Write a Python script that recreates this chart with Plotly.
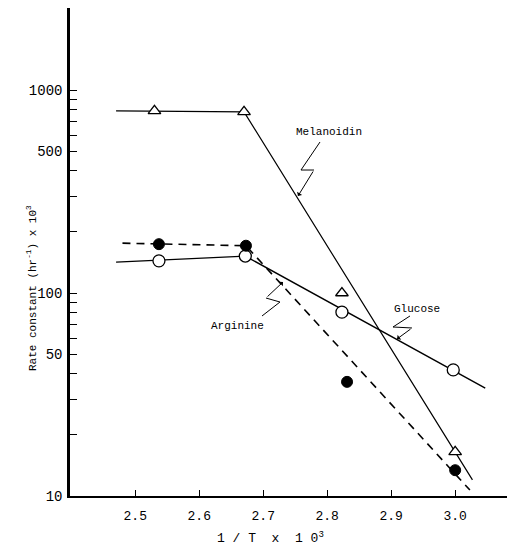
import plotly.graph_objects as go

# ---- data ----
mel_x = [2.530, 2.670, 2.823, 3.000]
mel_y = [790, 780, 100, 16.5]
glu_x = [2.537, 2.672, 2.823, 2.997]
glu_y = [144, 152, 80.5, 41.8]
arg_x = [2.537, 2.673, 2.831, 3.000]
arg_y = [174, 171, 36.5, 13.4]

mel_fit_x = [2.470, 2.670, 3.027]
mel_fit_y = [790, 780, 12.0]
glu_fit_x = [2.470, 2.672, 3.047]
glu_fit_y = [142, 152, 34]
arg_fit_x = [2.480, 2.673, 3.023]
arg_fit_y = [176, 171, 10.7]

x_ticks = [2.5, 2.6, 2.7, 2.8, 2.9, 3.0]
x_tick_labels = ["2.5", "2.6", "2.7", "2.8", "2.9", "3.0"]
y_ticks = [10, 20, 30, 40, 50, 60, 70, 80, 90, 100, 200, 300, 400, 500,
           600, 700, 800, 900, 1000]
y_labelled = {10: "10", 50: "50", 100: "100", 500: "500", 1000: "1000"}

FONT = "Liberation Mono"

# page has an 8px body margin; geometry below is in page pixels
OFF = 8
L, R, T, B = 70, 507, 8, 496          # plot area on the page
W, H = 522 - OFF, 549 - OFF           # figure size


def paper(px, py):
    return (px - L) / (R - L), (B - py) / (B - T)


def path(points):
    pts = [paper(*p) for p in points]
    return "M " + " L ".join(f"{x:.4f},{y:.4f}" for x, y in pts)


fig = go.Figure()

fig.add_trace(go.Scatter(x=mel_fit_x, y=mel_fit_y, mode="lines",
                         line=dict(color="black", width=1.2), hoverinfo="skip"))
fig.add_trace(go.Scatter(x=glu_fit_x, y=glu_fit_y, mode="lines",
                         line=dict(color="black", width=1.4), hoverinfo="skip"))
fig.add_trace(go.Scatter(x=arg_fit_x, y=arg_fit_y, mode="lines",
                         line=dict(color="black", width=1.6, dash="8px,6px"),
                         hoverinfo="skip"))

fig.add_trace(go.Scatter(x=mel_x, y=mel_y, mode="markers", name="Melanoidin",
                         marker=dict(symbol="triangle-up", size=11, color="white",
                                     line=dict(color="black", width=1.3))))
fig.add_trace(go.Scatter(x=glu_x, y=glu_y, mode="markers", name="Glucose",
                         marker=dict(symbol="circle", size=12, color="white",
                                     line=dict(color="black", width=1.3))))
fig.add_trace(go.Scatter(x=arg_x, y=arg_y, mode="markers", name="Arginine",
                         marker=dict(symbol="circle", size=11, color="black",
                                     line=dict(color="black", width=1))))

# callouts (labels with zig-zag pointers)
labels = [
    ("Melanoidin", 329, 132),
    ("Glucose", 417, 309),
    ("Arginine", 237, 326),
]
for txt, px, py in labels:
    x, y = paper(px, py)
    fig.add_annotation(x=x, y=y, xref="paper", yref="paper", text=txt,
                       showarrow=False, xanchor="center", yanchor="middle",
                       font=dict(family=FONT, size=11, color="black"))

zigzags = [
    [(320, 142), (301, 170), (314, 170), (298, 196)],
    [(262, 316), (280, 302), (266, 298), (283, 282)],
    [(410, 316), (393, 327), (412, 328), (397, 339)],
]
shapes = []
for zz in zigzags:
    shapes.append(dict(type="path", xref="paper", yref="paper", path=path(zz[:-1]),
                       line=dict(color="black", width=1)))
    (tx, ty), (hx, hy) = zz[-2], zz[-1]
    x, y = paper(hx, hy)
    fig.add_annotation(x=x, y=y, xref="paper", yref="paper", text="",
                       showarrow=True, ax=tx - hx, ay=ty - hy,
                       arrowhead=1, arrowsize=1, arrowwidth=1, arrowcolor="black")

# axis titles
xt, yt = paper(270, 537)
fig.add_annotation(x=xt, y=yt, xref="paper", yref="paper",
                   text="1 / T  x  1 0<sup>3</sup>", showarrow=False,
                   xanchor="center", yanchor="middle",
                   font=dict(family=FONT, size=13, color="black"))
xt, yt = paper(32, 288)
fig.add_annotation(x=xt, y=yt, xref="paper", yref="paper", textangle=-90,
                   text="Rate constant (hr<sup>-1</sup>) x 10<sup>3</sup>",
                   showarrow=False, xanchor="center", yanchor="middle",
                   font=dict(family=FONT, size=11, color="black"))

fig.update_layout(
    width=W, height=H,
    margin=dict(l=L - OFF, r=522 - R, t=T - OFF, b=549 - B),
    paper_bgcolor="white", plot_bgcolor="white",
    showlegend=False,
    shapes=shapes,
    font=dict(family=FONT, size=13, color="black"),
)
fig.update_xaxes(range=[2.398, 3.081], tickvals=x_ticks, ticktext=x_tick_labels,
                 ticks="inside", ticklen=6, tickwidth=1.2, tickcolor="black",
                 showline=True, linecolor="black", linewidth=2.2,
                 showgrid=False, zeroline=False, ticklabelstandoff=6,
                 tickfont=dict(family=FONT, size=13))
fig.update_yaxes(type="log", range=[1, 3.404], tickvals=y_ticks,
                 ticktext=[y_labelled.get(v, "") for v in y_ticks],
                 ticks="inside", ticklen=7, tickwidth=1.3, tickcolor="black",
                 showline=True, linecolor="black", linewidth=2.5,
                 showgrid=False, zeroline=False, ticklabelstandoff=2,
                 tickfont=dict(family=FONT, size=14))

fig.write_html("out.html")
